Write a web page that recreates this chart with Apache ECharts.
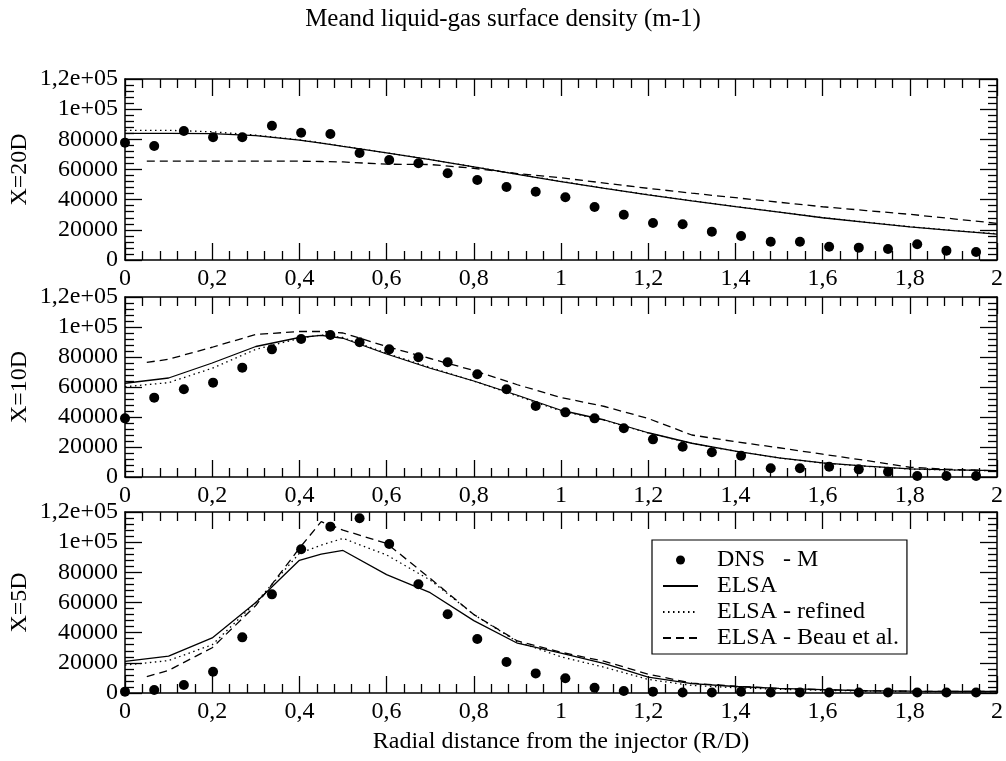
<!DOCTYPE html>
<html>
<head>
<meta charset="utf-8">
<script src="https://cdn.jsdelivr.net/npm/echarts@6/dist/echarts.min.js"></script>
<style>
html,body{margin:0;padding:0;background:#fff;}
#chart{width:1006px;height:761px;}
</style>
</head>
<body>
<div id="chart"></div>
<script>
// ---- data ----
const panelNames = ['X=20D', 'X=10D', 'X=5D'];
const xAxisTitle = 'Radial distance from the injector (R/D)';
const chartTitle = 'Meand liquid-gas surface density (m-1)';
const seriesNames = ['DNS   - M', 'ELSA', 'ELSA - refined', 'ELSA - Beau et al.'];
const xTickLabels = ['0','0,2','0,4','0,6','0,8','1','1,2','1,4','1,6','1,8','2'];
const yTickLabels = ['0','20000','40000','60000','80000','1e+05','1,2e+05'];

const dnsX = [0, 0.067, 0.135, 0.202, 0.269, 0.337, 0.404, 0.471, 0.538, 0.606,
  0.673, 0.740, 0.808, 0.875, 0.942, 1.010, 1.077, 1.144, 1.211, 1.279,
  1.346, 1.413, 1.481, 1.548, 1.615, 1.683, 1.750, 1.817, 1.884, 1.952];
const dns20 = [77800, 75600, 85500, 81400, 81400, 89000, 84400, 83500, 70900, 66300,
  64100, 57500, 53000, 48400, 45300, 41600, 35100, 30000, 24500, 23700,
  18800, 15900, 12100, 12100, 8800, 8200, 7300, 10400, 6200, 5300];
const dns10 = [39100, 52900, 58500, 62900, 72900, 85100, 92000, 94700, 89800, 85100,
  79800, 76500, 68500, 58500, 47300, 43100, 39100, 32500, 25100, 20200,
  16500, 14200, 5800, 5800, 6900, 5100, 3500, 700, 700, 700];
const dns5 = [900, 2000, 5300, 14100, 36900, 65400, 95300, 110300, 115800, 98800,
  72100, 52200, 35800, 20600, 13000, 9800, 3500, 1300, 900, 300,
  300, 900, 300, 300, 300, 300, 300, 300, 300, 300];

const lineX = [0, 0.1, 0.2, 0.3, 0.4, 0.45, 0.5, 0.6, 0.7, 0.8, 0.9, 1.0,
  1.1, 1.2, 1.3, 1.4, 1.5, 1.6, 1.7, 1.8, 1.9, 2.0];
const beauX = [0.05, 0.1, 0.2, 0.3, 0.4, 0.45, 0.5, 0.6, 0.7, 0.8, 0.9, 1.0,
  1.1, 1.2, 1.3, 1.4, 1.5, 1.6, 1.7, 1.8, 1.9, 2.0];

const elsa20 = [84000, 84000, 83800, 82400, 79500, 77500, 75300, 71000, 66500, 61700, 56800, 52000,
  47500, 43200, 39200, 35400, 31700, 28000, 25000, 22000, 19500, 17200];
const refined20 = [86000, 86000, 85000, 82800, 79700, 77600, 75400, 71100, 66600, 61800, 56900, 52100,
  47600, 43300, 39300, 35500, 31800, 28100, 25100, 22100, 19600, 17400];
const beau20 = [65600, 65600, 65600, 65600, 65500, 65300, 65000, 63500, 63300, 60800, 57300, 54500,
  51000, 47500, 44300, 41300, 38300, 35300, 32800, 30300, 27300, 24300];

const elsa10 = [62500, 66000, 76000, 87000, 93000, 94400, 92500, 82000, 72500, 64000, 54500, 44500,
  38000, 29500, 22500, 17300, 12800, 9400, 7200, 5400, 4700, 4200];
const refined10 = [60200, 62900, 72500, 85100, 92400, 94700, 93000, 82500, 73000, 64000, 54000, 44000,
  37800, 29300, 22400, 17200, 12700, 9300, 7100, 5300, 4600, 4100];
const beau10 = [76400, 78500, 86500, 95000, 97000, 97000, 96000, 87000, 79000, 71000, 61500, 53000,
  47000, 39000, 28000, 23500, 19500, 15200, 11000, 6500, 5000, 4200];

const elsa5 = [21000, 24500, 36500, 60000, 88000, 92000, 94500, 78500, 66500, 48000, 33000, 26500,
  19500, 10500, 6200, 4300, 3000, 2200, 1500, 1200, 1000, 1000];
const refined5 = [18500, 21500, 32000, 60000, 92600, 98000, 102500, 91500, 74900, 52000, 34000, 24000,
  17000, 9000, 5000, 3500, 2500, 1800, 1300, 1000, 900, 800];
const beau5 = [10800, 15000, 30000, 58000, 96000, 113600, 108000, 99200, 76000, 52000, 34500, 27000,
  21000, 12500, 6500, 4500, 3000, 2200, 1500, 1200, 1000, 1000];

const dnsRows = [dns20, dns10, dns5];
const elsaRows = [elsa20, elsa10, elsa5];
const refinedRows = [refined20, refined10, refined5];
const beauRows = [beau20, beau10, beau5];

// ---- layout ----
const FONT = "'Liberation Serif', 'Times New Roman', serif";
const gridLeft = 125, gridWidth = 872;
const gridTops = [79, 297, 512];
const gridHeights = [181, 180, 181];

const pair = (xs, ys) => xs.map((x, i) => [x, ys[i]]);
const xFmt = v => xTickLabels[Math.round(v / 0.2)];
const yFmt = v => yTickLabels[Math.round(v / 20000)];

function tickCfg() {
  return {
    z: 10,
    axisLine: {show: true, onZero: false, lineStyle: {color: '#000', width: 1.5}},
    splitLine: {show: false},
    axisTick: {show: true, inside: true, length: 17, lineStyle: {color: '#000', width: 1.3}},
    minorTick: {show: true, splitNumber: 5, length: 9, lineStyle: {color: '#000', width: 1.3}}
  };
}

const grids = [], xAxes = [], yAxes = [], series = [], graphics = [];
for (let p = 0; p < 3; p++) {
  grids.push({left: gridLeft, width: gridWidth, top: gridTops[p], height: gridHeights[p]});
  xAxes.push(Object.assign(tickCfg(), {
    type: 'value', gridIndex: p, min: 0, max: 2, interval: 0.2, position: 'bottom',
    axisLabel: {show: true, color: '#000', fontFamily: FONT, fontSize: 24, margin: 7, formatter: xFmt}
  }));
  xAxes.push(Object.assign(tickCfg(), {
    type: 'value', gridIndex: p, min: 0, max: 2, interval: 0.2, position: 'top',
    axisLabel: {show: false}
  }));
  yAxes.push(Object.assign(tickCfg(), {
    type: 'value', gridIndex: p, min: 0, max: 120000, interval: 20000, position: 'left',
    axisLabel: {show: true, color: '#000', fontFamily: FONT, fontSize: 24, margin: 7, formatter: yFmt}
  }));
  yAxes.push(Object.assign(tickCfg(), {
    type: 'value', gridIndex: p, min: 0, max: 120000, interval: 20000, position: 'right',
    axisLabel: {show: false}
  }));

  graphics.push({
    type: 'text', x: 20, y: gridTops[p] + gridHeights[p] / 2, rotation: Math.PI / 2,
    style: {text: panelNames[p], fill: '#000', font: '24px ' + FONT, align: 'center', verticalAlign: 'middle'}
  });

  const xi = p * 2, yi = p * 2;
  series.push({
    name: seriesNames[0], type: 'scatter', xAxisIndex: xi, yAxisIndex: yi,
    symbol: 'circle', symbolSize: 10, itemStyle: {color: '#000', opacity: 1},
    data: pair(dnsX, dnsRows[p])
  });
  series.push({
    name: seriesNames[1], type: 'line', xAxisIndex: xi, yAxisIndex: yi,
    symbol: 'none', itemStyle: {color: '#000'},
    lineStyle: {color: '#000', width: 1.3},
    data: pair(lineX, elsaRows[p])
  });
  series.push({
    name: seriesNames[2], type: 'line', xAxisIndex: xi, yAxisIndex: yi,
    symbol: 'none', itemStyle: {color: '#000'},
    lineStyle: {color: '#000', width: 1.3, type: [1.5, 3.5]},
    data: pair(lineX, refinedRows[p])
  });
  series.push({
    name: seriesNames[3], type: 'line', xAxisIndex: xi, yAxisIndex: yi,
    symbol: 'none', itemStyle: {color: '#000'},
    lineStyle: {color: '#000', width: 1.3, type: [8, 5]},
    data: pair(beauX, beauRows[p])
  });
}
graphics.push({
  type: 'text', x: gridLeft + gridWidth / 2, y: 742,
  style: {text: xAxisTitle, fill: '#000', font: '24px ' + FONT, align: 'center', verticalAlign: 'middle'}
});

const hiddenSym = {color: 'rgba(0,0,0,0)', borderWidth: 0, opacity: 0};
const chart = echarts.init(document.getElementById('chart'), null, {renderer: 'canvas'});
chart.setOption({
  animation: false,
  title: {
    text: chartTitle,
    left: 'center', top: 2,
    textStyle: {color: '#000', fontFamily: FONT, fontSize: 25, fontWeight: 'normal'}
  },
  legend: {
    orient: 'vertical', left: 652, top: 540,
    backgroundColor: '#fff',
    borderColor: '#000', borderWidth: 1.2,
    padding: [8, 8, 4, 10], itemGap: 2,
    itemWidth: 35, itemHeight: 9,
    data: [
      {name: seriesNames[0], itemStyle: {color: '#000', opacity: 1}},
      {name: seriesNames[1], itemStyle: hiddenSym},
      {name: seriesNames[2], itemStyle: hiddenSym},
      {name: seriesNames[3], itemStyle: hiddenSym}
    ],
    textStyle: {color: '#000', fontFamily: FONT, fontSize: 24, lineHeight: 24, padding: [0, 0, 0, 14]}
  },
  graphic: graphics,
  grid: grids, xAxis: xAxes, yAxis: yAxes, series: series
});
</script>
</body>
</html>
